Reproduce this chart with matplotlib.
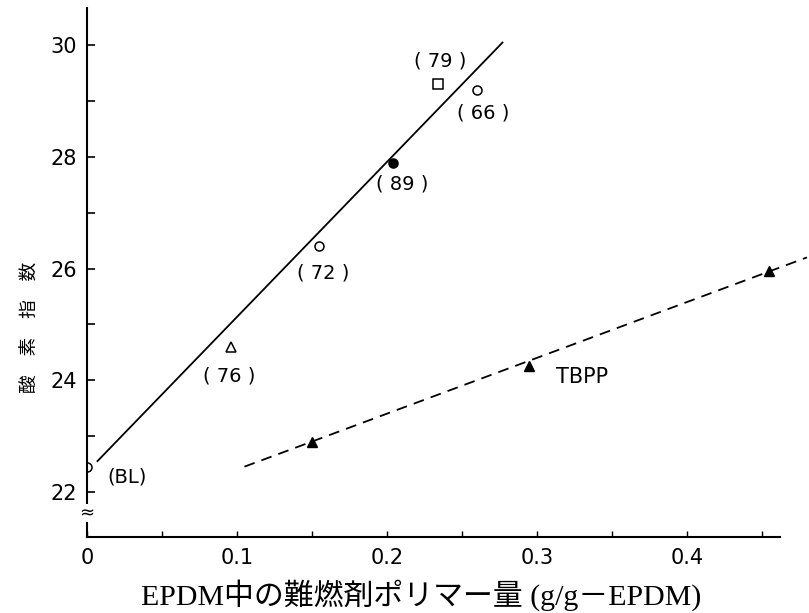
import matplotlib
matplotlib.use('Agg')
import matplotlib.pyplot as plt
from matplotlib.ticker import MultipleLocator, FixedLocator

plt.rcParams['font.family'] = ['DejaVu Sans', 'Noto Sans CJK JP']

# labelled samples (x: g/g-EPDM, y: oxygen index)
pts_x = [0.0, 0.096, 0.155, 0.204, 0.234, 0.26]
pts_y = [22.45, 24.6, 26.4, 27.9, 29.3, 29.2]
pts_lab = ['(BL)', '( 76 )', '( 72 )', '( 89 )', '( 79 )', '( 66 )']
pts_mk = ['o', '^', 'o', 'o', 's', 'o']
pts_fill = [False, False, False, True, False, False]
lab_off = [(40, -10), (-2, -29), (4, -27), (9, -21), (2, 23), (6, -23)]

# fitted line through the labelled samples
fit_x = [0.007, 0.277]
fit_y = [22.55, 30.05]

# TBPP series
tbpp_x = [0.15, 0.295, 0.455]
tbpp_y = [22.9, 24.25, 25.95]
tbpp_line_x = [0.105, 0.48]
tbpp_line_y = [22.45, 26.2]

fig = plt.figure(figsize=(8.09, 6.13), dpi=100)
ax = fig.add_axes([0.1075, 0.124, 0.8566, 0.863])

ax.plot(fit_x, fit_y, color='black', lw=1.3)
ax.plot(tbpp_line_x, tbpp_line_y, color='black', lw=1.3,
        linestyle=(0, (6, 4)), clip_on=False)
ax.plot(tbpp_x, tbpp_y, linestyle='none', marker='^', ms=7,
        color='black', clip_on=False)
ax.annotate('TBPP', (tbpp_x[1], tbpp_y[1]), xytext=(53, -11),
            textcoords='offset pixels', ha='center', va='center', fontsize=15)

for x, y, lab, mk, fill, off in zip(pts_x, pts_y, pts_lab, pts_mk, pts_fill, lab_off):
    ax.plot([x], [y], linestyle='none', marker=mk, ms=6.5, mew=1.1,
            markeredgecolor='black', markerfacecolor='black' if fill else 'white')
    ax.annotate(lab, (x, y), xytext=off, textcoords='offset pixels',
                ha='center', va='center', fontsize=14)

ax.set_xlim(0, 0.462)
ax.set_ylim(21.19, 30.67)

for s in ['top', 'right']:
    ax.spines[s].set_visible(False)
for s in ['left', 'bottom']:
    ax.spines[s].set_linewidth(1.5)

ax.xaxis.set_major_locator(FixedLocator([0, 0.1, 0.2, 0.3, 0.4]))
ax.xaxis.set_minor_locator(MultipleLocator(0.05))
ax.set_xticklabels(['0', '0.1', '0.2', '0.3', '0.4'])
ax.yaxis.set_major_locator(FixedLocator([22, 24, 26, 28, 30]))
ax.yaxis.set_minor_locator(FixedLocator([23, 25, 27, 29]))

ax.tick_params(axis='y', which='both', direction='in', length=6, width=1.2,
               labelsize=15, pad=7)
ax.tick_params(axis='x', which='both', direction='in', length=4, width=1,
               labelsize=15, pad=8)

# axis break on the y axis
ax.text(0, 0.045, '≈', transform=ax.transAxes, ha='center', va='center',
        fontsize=13, bbox=dict(facecolor='white', edgecolor='none', pad=0))

ax.set_xlabel('EPDM中の難燃剤ポリマー量 (g/g－EPDM)', fontsize=21.5,
              family=['Liberation Serif', 'Noto Sans CJK JP'])
ax.xaxis.set_label_coords(0.483, -0.08)
ax.set_ylabel('酸　素　指　数', fontsize=13.5, va='center',
              family=['Noto Sans CJK JP', 'DejaVu Sans'])
ax.yaxis.set_label_coords(-0.082, 0.397)

fig.savefig('out.png', dpi=100)
